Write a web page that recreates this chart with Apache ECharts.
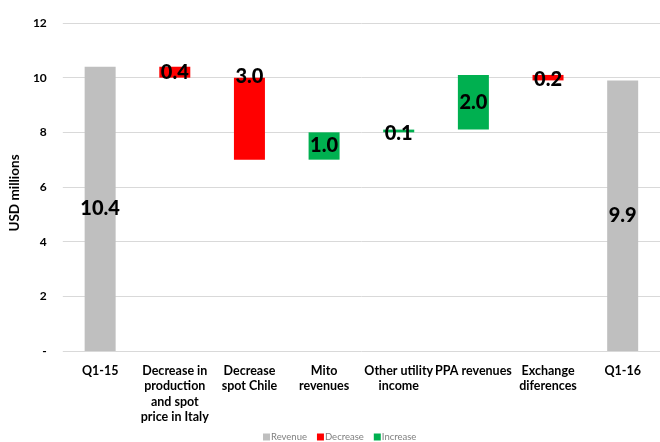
<!DOCTYPE html>
<html>
<head>
<meta charset="utf-8">
<script src="https://cdn.jsdelivr.net/npm/echarts@6/dist/echarts.min.js"></script>
<style>
  html, body { margin: 0; padding: 0; background: #ffffff; }
  #chart { width: 660px; height: 442px; }
</style>
</head>
<body>
<div id="chart"></div>
<script>
// Revenue bridge, Q1-15 to Q1-16 (USD millions)
const categories = [
  'Q1-15',
  'Decrease in\nproduction\nand spot\nprice in Italy',
  'Decrease\nspot Chile',
  'Mito\nrevenues',
  'Other utility\nincome',
  'PPA revenues',
  'Exchange\ndiferences',
  'Q1-16'
];
const revenue  = [10.4, null, null, null, null, null, null, 9.9];
const decrease = [null, 0.4, 3.0, null, null, null, 0.2, null];
const increase = [null, null, null, 1.0, 0.1, 2.0, null, null];
const yTicks = [0, 2, 4, 6, 8, 10, 12];

// Invisible offset for each floating step, from the running total
const base = [];
let running = 0;
categories.forEach((c, i) => {
  if (revenue[i] != null) {
    running = revenue[i];
    base.push(null);
  } else if (decrease[i] != null) {
    running = +(running - decrease[i]).toFixed(2);
    base.push(running);
  } else {
    base.push(running);
    running = +(running + increase[i]).toFixed(2);
  }
});

const FONT = 'Lato';
const labelStyle = {
  show: true,
  position: 'inside',
  color: '#000000',
  fontFamily: FONT,
  fontWeight: 900,
  fontSize: 20,
  formatter: p => p.value == null ? '' : Number(p.value).toFixed(1)
};

// Label placement tweaks for the thin and the tall step bars
const labelTweaks = {
  2: { position: 'insideTop', distance: -11 },
  4: { offset: [0, 3] },
  6: { offset: [0, 2] }
};
const withTweaks = arr => arr.map((v, i) =>
  (v != null && labelTweaks[i]) ? { value: v, label: labelTweaks[i] } : v);

const chart = echarts.init(document.getElementById('chart'), null, { renderer: 'canvas' });
chart.setOption({
  animation: false,
  backgroundColor: '#ffffff',
  grid: { left: 59, right: -3, top: 23, bottom: 91, containLabel: false },
  legend: {
    bottom: -5,
    left: 258,
    itemWidth: 7,
    itemHeight: 7,
    itemGap: 10,
    icon: 'rect',
    textStyle: { fontFamily: FONT, fontSize: 9.5, color: '#7f7f7f', padding: [0, 0, 0, -4] },
    data: ['Revenue', 'Decrease', 'Increase']
  },
  xAxis: {
    type: 'category',
    data: categories,
    axisLine: { show: false },
    axisTick: { show: false },
    axisLabel: {
      interval: 0,
      margin: 12,
      color: '#000000',
      fontFamily: FONT,
      fontWeight: 'bold',
      fontSize: 12.5,
      lineHeight: 15.5
    }
  },
  yAxis: {
    type: 'value',
    min: 0,
    max: 12,
    interval: 2,
    name: 'USD millions',
    nameLocation: 'middle',
    nameGap: 37,
    nameTextStyle: { fontFamily: FONT, fontWeight: 'bold', fontSize: 13.5, color: '#000000', padding: [0, 12, 0, 0] },
    axisLine: { show: false },
    axisTick: { show: false },
    splitLine: { lineStyle: { color: '#d9d9d9', width: 1 } },
    axisLabel: {
      margin: 16,
      color: '#000000',
      fontFamily: FONT,
      fontWeight: 'bold',
      fontSize: 12,
      formatter: v => (yTicks.includes(v) && v === 0) ? '-' : String(v)
    }
  },
  series: [
    {
      name: 'base',
      type: 'bar',
      stack: 'bridge',
      data: base,
      barWidth: 31,
      itemStyle: { color: 'transparent' },
      emphasis: { disabled: true },
      silent: true
    },
    {
      name: 'Revenue',
      type: 'bar',
      stack: 'bridge',
      data: revenue,
      barWidth: 31,
      itemStyle: { color: '#bfbfbf' },
      label: labelStyle
    },
    {
      name: 'Decrease',
      type: 'bar',
      stack: 'bridge',
      data: withTweaks(decrease),
      barWidth: 31,
      itemStyle: { color: '#ff0000' },
      label: labelStyle
    },
    {
      name: 'Increase',
      type: 'bar',
      stack: 'bridge',
      data: withTweaks(increase),
      barWidth: 31,
      itemStyle: { color: '#00b050' },
      label: labelStyle
    }
  ]
});
</script>
</body>
</html>
